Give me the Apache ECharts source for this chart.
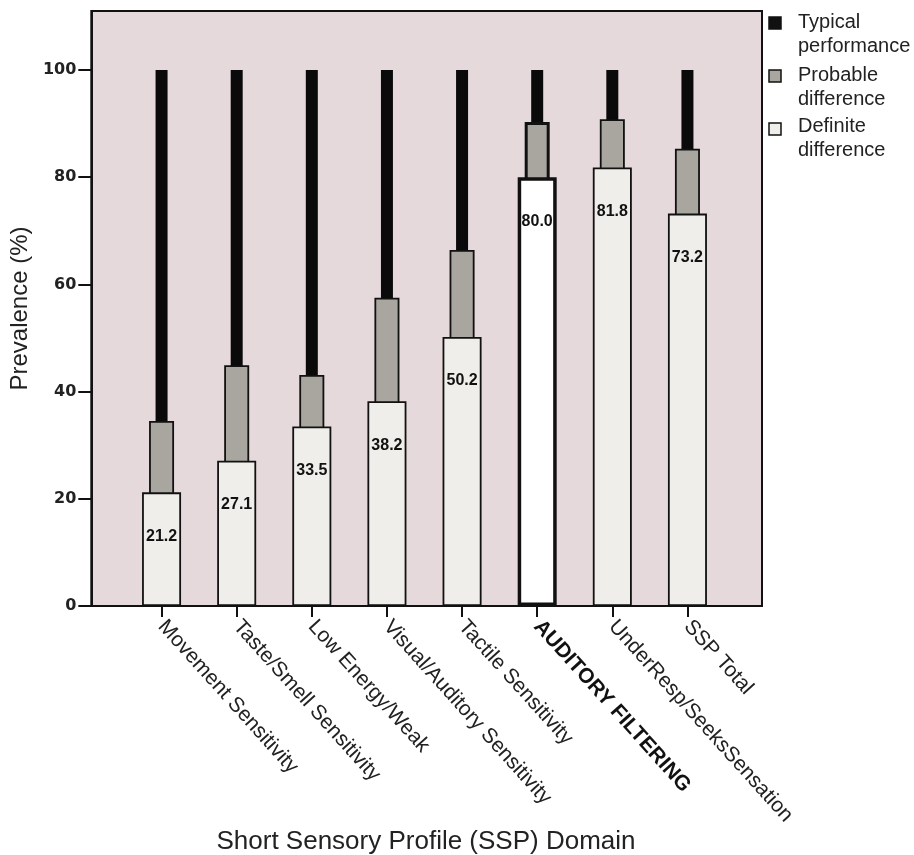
<!DOCTYPE html>
<html>
<head>
<meta charset="utf-8">
<script src="https://cdn.jsdelivr.net/npm/echarts@6/dist/echarts.min.js"></script>
<style>
html,body{margin:0;padding:0;background:#ffffff;}
#chart{width:914px;height:855px;}
</style>
</head>
<body>
<div id="chart"></div>
<script>
// ---- data ----
var categories = ['Movement Sensitivity', 'Taste/Smell Sensitivity', 'Low Energy/Weak',
  'Visual/Auditory Sensitivity', 'Tactile Sensitivity', 'AUDITORY FILTERING',
  'UnderResp/SeeksSensation', 'SSP Total'];
var definiteDiff = [21.2, 27.1, 33.5, 38.2, 50.2, 80.0, 81.8, 73.2];
var probableDiff = [13.3, 17.8, 9.6, 19.3, 16.2, 10.3, 9.0, 12.1];
var typicalTop = [100, 100, 100, 100, 100, 100, 100, 100];
var yTicks = [0, 20, 40, 60, 80, 100];
var highlightIndex = 5;

var FONT = 'Liberation Sans';
var probableTop = definiteDiff.map(function (d, i) { return +(d + probableDiff[i]).toFixed(1); });

var chart = echarts.init(document.getElementById('chart'));

var frameGrid = { left: 90, top: 11, width: 672, height: 595, show: true,
  backgroundColor: '#e5d9dc', borderColor: '#111', borderWidth: 2 };
var barGrid = { left: 124, top: 11, width: 601, height: 595 };

function catAxis(visible) {
  return {
    type: 'category', gridIndex: 1, data: categories, show: visible,
    axisLine: { show: false },
    axisTick: { show: visible, alignWithLabel: true, length: 11, lineStyle: { color: '#111', width: 2 } },
    axisLabel: {
      show: visible, rotate: -48, margin: 17, fontFamily: FONT, fontSize: 21, color: '#222',
      formatter: function (v) {
        return v === categories[highlightIndex] ? '{b|' + v + '}' : v;
      },
      rich: { b: { fontFamily: FONT, fontSize: 21, fontWeight: 'bold', color: '#111' } }
    }
  };
}

var option = {
  animation: false,
  grid: [frameGrid, barGrid],
  xAxis: [
    { type: 'value', gridIndex: 0, show: false, min: 0, max: 1 },
    catAxis(true), catAxis(false), catAxis(false)
  ],
  yAxis: [
    {
      type: 'value', gridIndex: 0, min: 0, max: 111, interval: 20,
      name: 'Prevalence (%)', nameLocation: 'middle', nameGap: 56,
      nameTextStyle: { fontFamily: FONT, fontSize: 24, color: '#222' },
      splitLine: { show: false },
      axisLine: { show: true, lineStyle: { color: '#111', width: 2 } },
      axisTick: { show: true, length: 13, customValues: yTicks, lineStyle: { color: '#111', width: 2 } },
      axisLabel: { customValues: yTicks, margin: 15, fontFamily: 'DejaVu Sans', fontWeight: 'bold', fontSize: 16, color: '#222' }
    },
    { type: 'value', gridIndex: 1, min: 0, max: 111, show: false, splitLine: { show: false } }
  ],
  series: [
    {
      name: 'Typical performance', type: 'bar', xAxisIndex: 1, yAxisIndex: 1,
      barWidth: 12, data: typicalTop,
      itemStyle: { color: '#0a0a0a' }
    },
    {
      name: 'Probable difference', type: 'bar', xAxisIndex: 2, yAxisIndex: 1,
      barWidth: 25,
      data: probableTop.map(function (v, i) {
        return i === highlightIndex ? { value: v, itemStyle: { borderWidth: 3 } } : v;
      }),
      itemStyle: { color: '#a9a59f', borderColor: '#111', borderWidth: 1.8 }
    },
    {
      name: 'Definite difference', type: 'bar', xAxisIndex: 3, yAxisIndex: 1,
      barWidth: 39,
      data: definiteDiff.map(function (v, i) {
        return i === highlightIndex ? { value: v, itemStyle: { color: '#ffffff', borderWidth: 3.5 } } : v;
      }),
      itemStyle: { color: '#efeeea', borderColor: '#111', borderWidth: 1.8 },
      label: {
        show: true, position: 'insideTop', distance: 36,
        fontFamily: FONT, fontWeight: 'bold', fontSize: 16, color: '#111',
        formatter: function (p) { return p.value.toFixed(1); }
      }
    }
  ],
  graphic: [
    { type: 'rect', shape: { x: 769, y: 17, width: 12, height: 12 }, style: { fill: '#111', stroke: '#111', lineWidth: 1.5 } },
    { type: 'text', x: 798, y: 10, style: { text: 'Typical\nperformance', fontFamily: FONT, fontSize: 20, lineHeight: 24, fill: '#222' } },
    { type: 'rect', shape: { x: 769, y: 70, width: 12, height: 12 }, style: { fill: '#a9a59f', stroke: '#111', lineWidth: 1.5 } },
    { type: 'text', x: 798, y: 63, style: { text: 'Probable\ndifference', fontFamily: FONT, fontSize: 20, lineHeight: 24, fill: '#222' } },
    { type: 'rect', shape: { x: 769, y: 123, width: 12, height: 12 }, style: { fill: '#efeeea', stroke: '#111', lineWidth: 1.5 } },
    { type: 'text', x: 798, y: 114, style: { text: 'Definite\ndifference', fontFamily: FONT, fontSize: 20, lineHeight: 24, fill: '#222' } },
    { type: 'text', x: 426, y: 842, style: { text: 'Short Sensory Profile (SSP) Domain', fontFamily: FONT, fontSize: 26, fill: '#222', textAlign: 'center', textVerticalAlign: 'middle' } }
  ]
};
chart.setOption(option);
</script>
</body>
</html>
